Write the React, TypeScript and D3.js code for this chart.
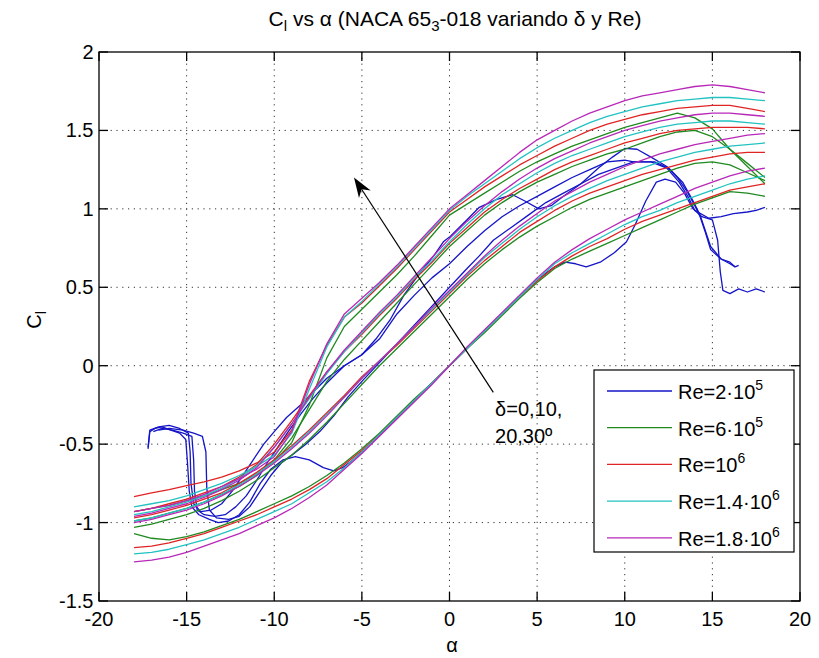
import React from 'react';
import * as d3 from 'd3';

const W = 819;
const H = 658;

const X_TICKS = [-20, -15, -10, -5, 0, 5, 10, 15, 20];
const Y_TICKS = [-1.5, -1, -0.5, 0, 0.5, 1, 1.5, 2];

const ALPHA = [-18, -17, -16, -15, -14, -13, -12, -11, -10, -9, -8, -7, -6, -5, -4, -3, -2, -1, 0,
  1, 2, 3, 4, 5, 6, 7, 8, 9, 10, 11, 12, 13, 14, 15, 16, 17, 18];

// delta = 0
const D0_RE6E5 = [-1.07,-1.10,-1.11,-1.09,-1.06,-1.02,-0.98,-0.93,-0.88,-0.83,-0.77,-0.70,-0.62,-0.53,-0.43,-0.32,-0.21,-0.11,0.00,0.11,0.21,0.32,0.43,0.53,0.62,0.68,0.73,0.78,0.83,0.88,0.93,0.98,1.03,1.07,1.11,1.10,1.08];
const D0_RE1E6 = [-1.16,-1.15,-1.13,-1.10,-1.07,-1.03,-0.99,-0.95,-0.90,-0.85,-0.79,-0.72,-0.63,-0.54,-0.44,-0.33,-0.22,-0.11,0.00,0.11,0.22,0.33,0.44,0.54,0.63,0.70,0.76,0.81,0.87,0.92,0.96,1.00,1.04,1.08,1.12,1.14,1.16];
const D0_RE14E5 = [-1.20,-1.19,-1.17,-1.14,-1.11,-1.07,-1.03,-0.98,-0.93,-0.88,-0.81,-0.74,-0.65,-0.55,-0.44,-0.33,-0.22,-0.11,0.00,0.11,0.22,0.33,0.44,0.55,0.65,0.72,0.78,0.84,0.90,0.95,0.99,1.04,1.08,1.12,1.16,1.19,1.21];
const D0_RE18E5 = [-1.25,-1.24,-1.22,-1.19,-1.15,-1.11,-1.07,-1.02,-0.97,-0.91,-0.84,-0.76,-0.66,-0.56,-0.45,-0.34,-0.23,-0.12,0.00,0.12,0.23,0.34,0.45,0.56,0.66,0.74,0.81,0.87,0.93,0.98,1.03,1.08,1.13,1.17,1.21,1.24,1.26];

// delta = 10
const D10_RE6E5 = [-1.03,-1.01,-0.98,-0.95,-0.91,-0.86,-0.80,-0.73,-0.65,-0.57,-0.47,-0.36,-0.24,-0.12,0.00,0.11,0.22,0.33,0.44,0.55,0.65,0.74,0.82,0.89,0.95,1.01,1.06,1.10,1.14,1.18,1.22,1.26,1.29,1.30,1.28,1.23,1.18];
const D10_RE1E6 = [-0.97,-0.95,-0.92,-0.89,-0.85,-0.81,-0.75,-0.68,-0.60,-0.51,-0.41,-0.30,-0.19,-0.07,0.03,0.13,0.24,0.35,0.46,0.57,0.67,0.76,0.85,0.92,0.99,1.05,1.10,1.14,1.18,1.22,1.25,1.28,1.31,1.33,1.35,1.36,1.36];
const D10_RE14E5 = [-0.99,-0.97,-0.94,-0.91,-0.87,-0.82,-0.76,-0.69,-0.61,-0.52,-0.42,-0.31,-0.20,-0.08,0.03,0.14,0.25,0.36,0.47,0.58,0.69,0.78,0.87,0.95,1.02,1.08,1.13,1.18,1.22,1.26,1.30,1.33,1.36,1.38,1.40,1.41,1.42];
const D10_RE18E5 = [-1.00,-0.98,-0.95,-0.92,-0.88,-0.83,-0.77,-0.70,-0.62,-0.53,-0.43,-0.32,-0.20,-0.08,0.03,0.14,0.25,0.37,0.48,0.59,0.70,0.80,0.89,0.97,1.05,1.11,1.17,1.22,1.27,1.31,1.35,1.38,1.41,1.43,1.45,1.47,1.48];

// delta = 20
const D20_RE6E5 = [-0.99,-0.97,-0.94,-0.91,-0.87,-0.82,-0.77,-0.70,-0.60,-0.46,-0.28,-0.10,0.04,0.16,0.28,0.40,0.52,0.64,0.76,0.86,0.96,1.04,1.11,1.17,1.22,1.27,1.31,1.35,1.38,1.42,1.46,1.49,1.50,1.46,1.38,1.29,1.20];
const D20_RE1E6 = [-0.93,-0.91,-0.88,-0.85,-0.81,-0.77,-0.71,-0.63,-0.50,-0.35,-0.19,-0.04,0.09,0.20,0.32,0.43,0.55,0.66,0.78,0.88,0.98,1.06,1.13,1.19,1.25,1.30,1.34,1.38,1.42,1.45,1.48,1.50,1.51,1.52,1.52,1.52,1.51];
const D20_RE14E5 = [-0.95,-0.93,-0.90,-0.87,-0.83,-0.78,-0.72,-0.64,-0.52,-0.37,-0.21,-0.05,0.09,0.21,0.33,0.44,0.56,0.67,0.79,0.90,1.00,1.09,1.16,1.23,1.29,1.34,1.38,1.42,1.46,1.49,1.52,1.54,1.55,1.56,1.56,1.55,1.54];
const D20_RE18E5 = [-0.96,-0.94,-0.91,-0.88,-0.84,-0.79,-0.73,-0.65,-0.52,-0.37,-0.20,-0.04,0.10,0.22,0.34,0.45,0.57,0.69,0.81,0.92,1.02,1.11,1.19,1.26,1.32,1.37,1.42,1.46,1.50,1.53,1.56,1.58,1.60,1.61,1.61,1.60,1.59];

// delta = 30
const D30_RE6E5 = [-0.93,-0.91,-0.89,-0.86,-0.83,-0.79,-0.75,-0.69,-0.61,-0.49,-0.25,0.05,0.25,0.36,0.47,0.58,0.70,0.83,0.96,1.03,1.10,1.17,1.24,1.30,1.35,1.40,1.44,1.48,1.52,1.55,1.58,1.61,1.58,1.51,1.38,1.27,1.16];
const D30_RE1E6 = [-0.835,-0.81,-0.79,-0.765,-0.74,-0.71,-0.67,-0.62,-0.55,-0.41,-0.10,0.13,0.31,0.40,0.51,0.62,0.74,0.86,0.98,1.06,1.14,1.21,1.28,1.34,1.40,1.45,1.50,1.54,1.57,1.60,1.62,1.64,1.65,1.66,1.66,1.64,1.62];
const D30_RE14E5 = [-0.90,-0.88,-0.86,-0.83,-0.79,-0.75,-0.70,-0.64,-0.57,-0.43,-0.15,0.12,0.31,0.41,0.52,0.63,0.75,0.87,0.99,1.08,1.16,1.24,1.32,1.39,1.45,1.50,1.55,1.59,1.62,1.65,1.67,1.69,1.70,1.71,1.71,1.70,1.69];
const D30_RE18E5 = [-0.93,-0.91,-0.89,-0.86,-0.82,-0.77,-0.72,-0.66,-0.58,-0.42,-0.12,0.14,0.33,0.43,0.53,0.64,0.76,0.88,1.00,1.09,1.18,1.27,1.36,1.44,1.50,1.56,1.61,1.65,1.69,1.72,1.74,1.76,1.78,1.79,1.78,1.76,1.74];

// Re = 2e5 (measured alpha, Cl pairs)
const B_D0: [number, number][] = [[-17.2,-0.53],[-17.1,-0.42],[-16.8,-0.40],[-16.4,-0.39],[-15.9,-0.41],[-15.4,-0.43],[-15.05,-0.47],[-14.95,-0.62],[-14.85,-0.80],[-14.7,-0.90],[-14.3,-0.95],[-13.7,-0.98],[-13.2,-1.0],[-12.6,-0.99],[-12.0,-0.95],[-11.4,-0.87],[-10.8,-0.75],[-10.2,-0.66],[-9.5,-0.60],[-8.8,-0.58],[-8.0,-0.60],[-7.2,-0.65],[-6.6,-0.67],[-6.1,-0.65],[-5.5,-0.60],[-5,-0.55],[-4,-0.44],[-3,-0.33],[-2,-0.22],[-1,-0.11],[0,0.0],[1,0.11],[2,0.22],[3,0.33],[4,0.44],[5,0.55],[6,0.63],[6.6,0.66],[7.2,0.65],[7.8,0.63],[8.6,0.66],[9.4,0.72],[10.1,0.79],[10.6,0.90],[11.2,1.05],[11.8,1.17],[12.3,1.19],[12.9,1.17],[13.4,1.10],[13.9,1.00],[14.4,0.95],[15.0,0.93],[15.3,0.80],[15.45,0.60],[15.6,0.48],[16.0,0.46],[16.5,0.49],[17,0.47],[17.5,0.49],[18,0.47]];
const B_D10: [number, number][] = [[-16.6,-0.41],[-16.0,-0.40],[-15.2,-0.41],[-14.6,-0.43],[-14.1,-0.45],[-13.9,-0.55],[-13.85,-0.78],[-13.7,-0.92],[-13.3,-0.97],[-12.6,-0.98],[-12.0,-0.96],[-11.4,-0.90],[-10.8,-0.80],[-10.2,-0.70],[-9.6,-0.62],[-9.0,-0.57],[-8.2,-0.50],[-7.4,-0.42],[-6.6,-0.32],[-5.8,-0.20],[-5,-0.10],[-4,0.02],[-3,0.14],[-2,0.26],[-1,0.38],[0,0.50],[1,0.62],[1.7,0.70],[2.5,0.80],[3.5,0.88],[4.5,0.96],[5.5,1.04],[6.5,1.10],[7.5,1.16],[8.5,1.22],[9.5,1.26],[10.5,1.30],[11.5,1.30],[12.4,1.26],[13.1,1.17],[13.6,1.08],[14.0,0.99],[14.8,0.94],[15.5,0.95],[16.2,0.97],[17,0.98],[17.5,0.99],[18,1.01]];
const B_D20: [number, number][] = [[-16.9,-0.42],[-16.4,-0.40],[-15.8,-0.41],[-15.2,-0.43],[-14.7,-0.45],[-14.6,-0.60],[-14.55,-0.80],[-14.4,-0.92],[-14.0,-0.95],[-13.4,-0.96],[-12.8,-0.95],[-12.2,-0.90],[-11.6,-0.83],[-11.0,-0.73],[-10.4,-0.62],[-9.8,-0.52],[-9.2,-0.42],[-8.5,-0.31],[-7.8,-0.21],[-7,-0.11],[-6,0.0],[-5,0.07],[-4,0.17],[-3,0.33],[-2,0.45],[-1,0.56],[0,0.65],[1,0.76],[2,0.86],[3,0.95],[4,1.02],[5,1.08],[6,1.14],[7,1.20],[8,1.25],[9,1.30],[10,1.31],[10.5,1.30],[11.7,1.30],[12.5,1.26],[13.3,1.17],[13.9,1.05],[14.3,0.96],[14.9,0.76],[15.5,0.68],[16.0,0.65],[16.3,0.63],[16.5,0.64]];
const B_D30: [number, number][] = [[-17.2,-0.52],[-17.1,-0.41],[-16.6,-0.39],[-16.0,-0.38],[-15.4,-0.40],[-14.9,-0.43],[-14.8,-0.55],[-14.75,-0.75],[-14.6,-0.88],[-14.2,-0.93],[-13.6,-0.92],[-13.0,-0.88],[-12.4,-0.80],[-11.8,-0.70],[-11.2,-0.60],[-10.6,-0.50],[-10,-0.42],[-9.3,-0.33],[-8.5,-0.25],[-7.7,-0.16],[-7,-0.08],[-6,0.0],[-5,0.07],[-4.2,0.17],[-3.4,0.29],[-2.6,0.45],[-1.7,0.59],[-0.9,0.70],[-0.35,0.79],[0,0.82],[1,0.93],[1.7,1.01],[2.7,1.06],[3.6,1.09],[4.3,1.05],[5.1,1.00],[5.8,1.02],[6.5,1.08],[7.5,1.16],[8.5,1.26],[9.3,1.33],[10,1.385],[10.7,1.38],[11.5,1.33],[12.4,1.27],[13.0,1.20],[13.5,1.12],[14.0,1.02],[14.3,0.95],[14.6,0.85],[14.9,0.74],[15.5,0.68],[16,0.66],[16.3,0.63]];

const RE_TEXT = ['Re=2·10', 'Re=6·10', 'Re=10', 'Re=1.4·10', 'Re=1.8·10'];
const RE_EXP = ['5', '5', '6', '6', '6'];

const ARROW_FROM: [number, number] = [2.5, -0.17];
const ARROW_TO: [number, number] = [-5.45, 1.2];
const ANNOT_LINES = ['δ=0,10,', '20,30º'];
const ANNOT_POS: [number, number] = [2.6, -0.32];

const COLORS = ['#1515c8', '#1f8a1f', '#e02424', '#22c2c2', '#b828b8'];
const FONT = 'Liberation Sans, Arial, Helvetica, sans-serif';

export default function App() {
  const x = d3.scaleLinear().domain([-20, 20]).range([99, 800]);
  const y = d3.scaleLinear().domain([-1.5, 2]).range([601, 52]);
  const line = d3.line<[number, number]>().x((d) => x(d[0])).y((d) => y(d[1]));
  const zip = (v: number[]) => ALPHA.map((a, i) => [a, v[i]] as [number, number]);

  const groups: { color: number; pts: [number, number][] }[] = [
    ...[B_D0, B_D10, B_D20, B_D30].map((p) => ({ color: 0, pts: p })),
    ...[D0_RE6E5, D10_RE6E5, D20_RE6E5, D30_RE6E5].map((v) => ({ color: 1, pts: zip(v) })),
    ...[D0_RE1E6, D10_RE1E6, D20_RE1E6, D30_RE1E6].map((v) => ({ color: 2, pts: zip(v) })),
    ...[D0_RE14E5, D10_RE14E5, D20_RE14E5, D30_RE14E5].map((v) => ({ color: 3, pts: zip(v) })),
    ...[D0_RE18E5, D10_RE18E5, D20_RE18E5, D30_RE18E5].map((v) => ({ color: 4, pts: zip(v) })),
  ];

  const [x0, x1] = x.range();
  const [yb, yt] = y.range();
  const tick = 9;

  const ax0 = x(ARROW_FROM[0]), ay0 = y(ARROW_FROM[1]);
  const ax1 = x(ARROW_TO[0]), ay1 = y(ARROW_TO[1]);
  const len = Math.hypot(ax1 - ax0, ay1 - ay0);
  const ux = (ax1 - ax0) / len, uy = (ay1 - ay0) / len;
  const nx = -uy, ny = ux;
  const hl = 20, hw = 7, notch = 14;
  const head = [
    [ax1, ay1],
    [ax1 - hl * ux + hw * nx, ay1 - hl * uy + hw * ny],
    [ax1 - notch * ux, ay1 - notch * uy],
    [ax1 - hl * ux - hw * nx, ay1 - hl * uy - hw * ny],
  ].map((p) => p.join(',')).join(' ');

  const legX = 594, legY = 370, legW = 200, legH = 182;
  const rowY = (i: number) => legY + 21 + i * 36.7;

  return (
    <svg width={W} height={H} style={{ position: 'absolute', left: 0, top: 0, background: '#fff' }} fontFamily={FONT}>
      <rect x={0} y={0} width={W} height={H} fill="#fff" />
      {X_TICKS.slice(1, -1).map((t) => (
        <line key={'gx' + t} x1={x(t)} x2={x(t)} y1={yt} y2={yb} stroke="#333" strokeWidth={1} strokeDasharray="1.2 4.6" />
      ))}
      {Y_TICKS.slice(1, -1).map((t) => (
        <line key={'gy' + t} x1={x0} x2={x1} y1={y(t)} y2={y(t)} stroke="#333" strokeWidth={1} strokeDasharray="1.2 4.6" />
      ))}
      <g fill="none" strokeWidth={1.3} strokeLinejoin="round">
        {groups.map((g, i) => (
          <path key={i} d={line(g.pts) || ''} stroke={COLORS[g.color]} />
        ))}
      </g>
      <rect x={x0} y={yt} width={x1 - x0} height={yb - yt} fill="none" stroke="#000" strokeWidth={1.3} />
      {X_TICKS.map((t) => (
        <g key={'tx' + t}>
          <line x1={x(t)} x2={x(t)} y1={yb} y2={yb - tick} stroke="#000" strokeWidth={1.3} />
          <line x1={x(t)} x2={x(t)} y1={yt} y2={yt + tick} stroke="#000" strokeWidth={1.3} />
          <text x={x(t)} y={626} fontSize={20} textAnchor="middle" fill="#000">{String(t)}</text>
        </g>
      ))}
      {Y_TICKS.map((t) => (
        <g key={'ty' + t}>
          <line x1={x0} x2={x0 + tick} y1={y(t)} y2={y(t)} stroke="#000" strokeWidth={1.3} />
          <line x1={x1} x2={x1 - tick} y1={y(t)} y2={y(t)} stroke="#000" strokeWidth={1.3} />
          <text x={93.5} y={y(t) + 7} fontSize={20} textAnchor="end" fill="#000">{String(t)}</text>
        </g>
      ))}
      <text x={455} y={26} fontSize={21} textAnchor="middle" fill="#000">
        C<tspan fontSize={15} dy={5}>l</tspan><tspan dy={-5}> vs α (NACA 65</tspan><tspan fontSize={15} dy={5}>3</tspan><tspan dy={-5}>-018 variando δ y Re)</tspan>
      </text>
      <text x={452} y={652} fontSize={20} textAnchor="middle" fill="#000">α</text>
      <text transform="translate(41,320) rotate(-90)" fontSize={20} textAnchor="middle" fill="#000">
        C<tspan fontSize={14} dy={5}>l</tspan>
      </text>
      <line x1={ax0} y1={ay0} x2={ax1 - notch * ux} y2={ay1 - notch * uy} stroke="#000" strokeWidth={1.2} />
      <polygon points={head} fill="#000" />
      {ANNOT_LINES.map((s, i) => (
        <text key={s} x={x(ANNOT_POS[0])} y={y(ANNOT_POS[1]) + i * 27} fontSize={20} fill="#000">{s}</text>
      ))}
      <rect x={legX} y={legY} width={legW} height={legH} fill="#fff" stroke="#000" strokeWidth={1.2} />
      {RE_TEXT.map((s, i) => (
        <g key={s}>
          <line x1={legX + 13} x2={legX + 78} y1={rowY(i)} y2={rowY(i)} stroke={COLORS[i]} strokeWidth={1.3} />
          <text x={legX + 84} y={rowY(i) + 8} fontSize={20} fill="#000">
            {s}<tspan fontSize={14} dy={-9}>{RE_EXP[i]}</tspan>
          </text>
        </g>
      ))}
    </svg>
  );
}
